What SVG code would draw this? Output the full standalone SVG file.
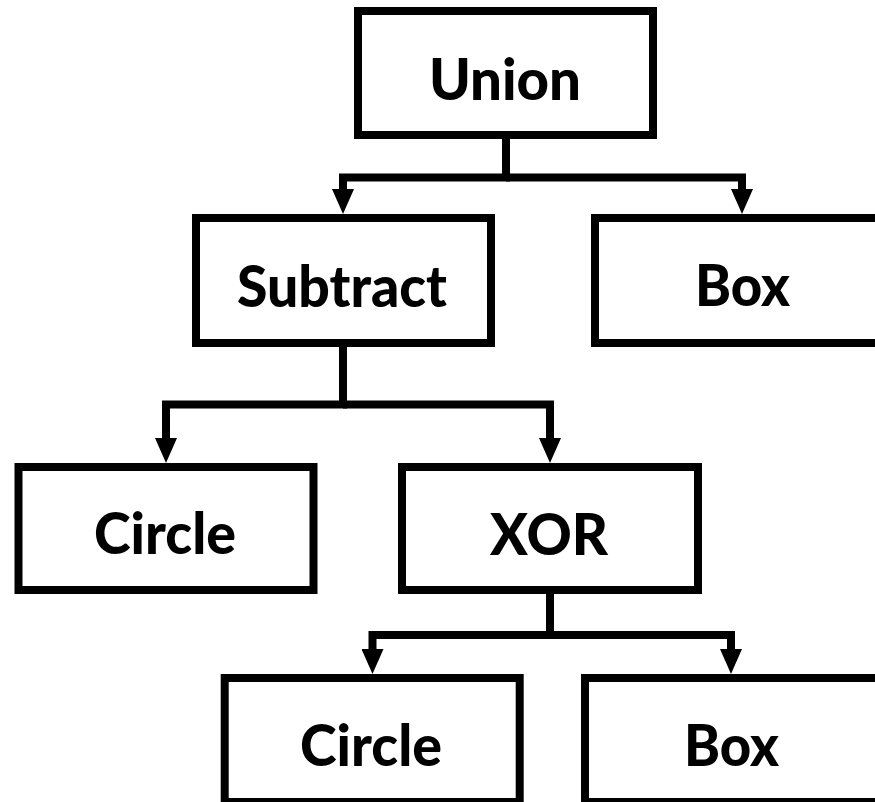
<svg xmlns="http://www.w3.org/2000/svg" width="875" height="802" viewBox="0 0 875 802">
  <style>
    .box { fill: #ffffff; stroke: #000000; stroke-width: 8; }
    .label { font-family: "Lato", "Open Sans", "Liberation Sans", sans-serif; font-weight: 900; font-size: 58px; fill: #000000; text-anchor: middle; }
    .wire { fill: none; stroke: #000000; stroke-width: 8; stroke-linejoin: miter; stroke-linecap: butt; marker-end: url(#arrow); }
  </style>
  <defs>
    <marker id="arrow" markerUnits="userSpaceOnUse" markerWidth="25" markerHeight="22" viewBox="0 0 25 22" refX="1" refY="11" orient="auto">
      <path d="M0,0 L25,11 L0,22 Z" fill="#000000"/>
    </marker>
  </defs>
  <rect width="875" height="802" fill="#ffffff"/>

  <!-- connectors -->
  <g id="connectors">
    <path class="wire" d="M506,139 V177.5 H343 V190"/>
    <path class="wire" d="M506,177.5 H742 V190"/>
    <path class="wire" d="M343,347 V404.5 H166 V439"/>
    <path class="wire" d="M343,404.5 H550 V439"/>
    <path class="wire" d="M550,594 V635 H372.5 V650"/>
    <path class="wire" d="M550,635 H731 V650"/>
  </g>

  <!-- nodes -->
  <g id="union">
    <rect class="box" x="358" y="11" width="295" height="124"/>
    <text class="label" x="505" y="100" textLength="152" lengthAdjust="spacingAndGlyphs">Union</text>
  </g>
  <g id="subtract">
    <rect class="box" x="196" y="218" width="295" height="125"/>
    <text class="label" x="342" y="307" textLength="210" lengthAdjust="spacingAndGlyphs">Subtract</text>
  </g>
  <g id="box-top">
    <rect class="box" x="595" y="218" width="295" height="125"/>
    <text class="label" x="742.5" y="306" textLength="95" lengthAdjust="spacingAndGlyphs">Box</text>
  </g>
  <g id="circle-left">
    <rect class="box" x="18.5" y="467" width="295" height="123"/>
    <text class="label" x="165" y="554" textLength="142" lengthAdjust="spacingAndGlyphs">Circle</text>
  </g>
  <g id="xor">
    <rect class="box" x="402" y="467" width="296" height="123"/>
    <text class="label" x="549" y="555" textLength="118" lengthAdjust="spacingAndGlyphs">XOR</text>
  </g>
  <g id="circle-bottom">
    <rect class="box" x="224.7" y="678" width="295" height="124"/>
    <text class="label" x="371" y="766" textLength="142" lengthAdjust="spacingAndGlyphs">Circle</text>
  </g>
  <g id="box-bottom">
    <rect class="box" x="585" y="678" width="295" height="124"/>
    <text class="label" x="731.5" y="766" textLength="95" lengthAdjust="spacingAndGlyphs">Box</text>
  </g>
</svg>
